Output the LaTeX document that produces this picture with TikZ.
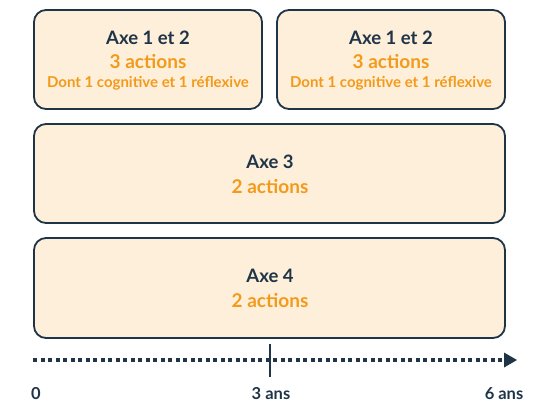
\documentclass[tikz,border=0pt]{standalone}
\usepackage{fontspec}
\setmainfont{Lato}
\usetikzlibrary{arrows.meta}
\definecolor{navy}{HTML}{1F3447}
\definecolor{peach}{HTML}{FDEFD9}
\definecolor{orng}{HTML}{F39A1B}
\tikzset{
  axbox/.style={draw=navy, fill=peach, line width=1.8pt, rounded corners=12pt},
  ttl/.style={anchor=base, inner sep=0pt, font=\fontsize{18.5}{22}\selectfont\bfseries, text=navy},
  act/.style={anchor=base, inner sep=0pt, font=\fontsize{19}{22}\selectfont\bfseries, text=orng},
  sub/.style={anchor=base, inner sep=0pt, font=\fontsize{15}{18}\selectfont\bfseries, text=orng},
  lbl/.style={anchor=base, inner sep=0pt, font=\fontsize{16.5}{19}\selectfont\bfseries, text=navy},
}
\begin{document}
\begin{tikzpicture}[x=1pt,y=-1pt]
\useasboundingbox (0,0) rectangle (540,404);
\draw[axbox] (34,10) rectangle (262,109);
\draw[axbox] (277,10) rectangle (505,109);
\draw[axbox] (34,124) rectangle (505,223);
\draw[axbox] (34,238) rectangle (505,338);
\node[ttl] (t1) at (148,44.5) {Axe 1 et 2};
\node[act] (a1) at (148,68.5) {3 actions};
\node[sub] (s1) at (148,87.5) {Dont 1 cognitive et 1 réflexive};
\node[ttl] (t2) at (391,44.5) {Axe 1 et 2};
\node[act] (a2) at (391,68.5) {3 actions};
\node[sub] (s2) at (391,87.5) {Dont 1 cognitive et 1 réflexive};
\node[ttl] (t3) at (270,168) {Axe 3};
\node[act] (a3) at (270,193) {2 actions};
\node[ttl] (t4) at (270,282) {Axe 4};
\node[act] (a4) at (270,307) {2 actions};
\coordinate (s) at (33,360);
\coordinate (e) at (517,360);
\draw[navy, line width=3.5pt, dash pattern=on 4pt off 3.5pt, -{Triangle[length=13pt,width=15pt,line width=0pt]}] (s) -- (e);
\coordinate (tk1) at (270,344);
\coordinate (tk2) at (270,377);
\draw[navy, line width=2pt] (tk1) -- (tk2);
\node[lbl] (l0) at (36,399.5) {0};
\node[lbl] (l3) at (271,399.5) {3 ans};
\node[lbl] (l6) at (504,399.5) {6 ans};
\end{tikzpicture}
\end{document}
